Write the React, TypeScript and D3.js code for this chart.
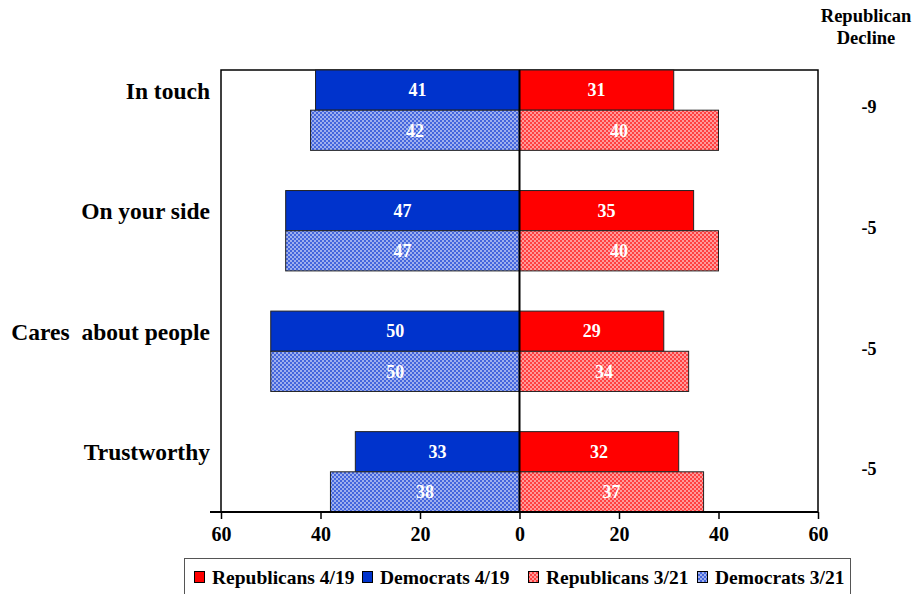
import React, { useEffect, useRef } from "react";
import * as d3 from "d3";

// Survey items (top to bottom)
const categories = ["In touch", "On your side", "Cares  about people", "Trustworthy"];
const democrats419 = [41, 47, 50, 33];
const republicans419 = [31, 35, 29, 32];
const democrats321 = [42, 47, 50, 38];
const republicans321 = [40, 40, 34, 37];
const tickValues = [-60, -40, -20, 0, 20, 40, 60];
const legendLabels = ["Republicans 4/19", "Democrats 4/19", "Republicans 3/21", "Democrats 3/21"];

const W = 914;
const H = 594;
const FONT = "'Liberation Serif', 'Times New Roman', serif";
const RED = "#ff0000";
const BLUE = "#0033cc";
// left edge of each legend entry's swatch
const LEGEND_X = [194, 362, 528, 697];

export default function App() {
  const ref = useRef<SVGSVGElement | null>(null);

  useEffect(() => {
    const svg = d3.select(ref.current);
    svg.selectAll("*").remove();

    const left = 221, right = 818, top = 70, bottom = 512;

    const x = d3.scaleLinear().domain([-60, 60]).range([left, right]);
    const y = d3.scaleBand<string>().domain(categories).range([top, bottom]).paddingInner(1 / 3).paddingOuter(0);
    const bw = y.bandwidth() / 2;

    // checkered fills for the earlier wave
    const defs = svg.append("defs");
    const mkPattern = (id: string, dark: string, light: string) => {
      const p = defs.append("pattern").attr("id", id).attr("patternUnits", "userSpaceOnUse")
        .attr("width", 4).attr("height", 4);
      p.append("rect").attr("width", 4).attr("height", 4).attr("fill", light);
      p.append("rect").attr("width", 2).attr("height", 2).attr("fill", dark);
      p.append("rect").attr("x", 2).attr("y", 2).attr("width", 2).attr("height", 2).attr("fill", dark);
    };
    mkPattern("redCheck", "#ff4040", "#ff9a9a");
    mkPattern("blueCheck", "#4466dd", "#9fb0ee");

    // plot frame
    const g = svg.append("g");
    g.append("path")
      .attr("d", `M${left},${bottom}V${top}H${right}V${bottom}`)
      .attr("fill", "none").attr("stroke", "#000").attr("stroke-width", 1.5);

    type Row = { cat: string; value: number; fill: string; offset: number; side: number };
    const rows: Row[] = [];
    categories.forEach((c, i) => {
      rows.push({ cat: c, value: democrats419[i], fill: BLUE, offset: 0, side: -1 });
      rows.push({ cat: c, value: republicans419[i], fill: RED, offset: 0, side: 1 });
      rows.push({ cat: c, value: democrats321[i], fill: "url(#blueCheck)", offset: 1, side: -1 });
      rows.push({ cat: c, value: republicans321[i], fill: "url(#redCheck)", offset: 1, side: 1 });
    });

    g.selectAll("rect.bar").data(rows).join("rect")
      .attr("class", "bar")
      .attr("x", (d) => Math.min(x(0), x(d.side * d.value)))
      .attr("width", (d) => Math.abs(x(d.side * d.value) - x(0)))
      .attr("y", (d) => (y(d.cat) as number) + d.offset * bw)
      .attr("height", bw)
      .attr("fill", (d) => d.fill)
      .attr("stroke", "#222").attr("stroke-width", 1);

    g.selectAll("text.val").data(rows).join("text")
      .attr("class", "val")
      .attr("x", (d) => (x(0) + x(d.side * d.value)) / 2)
      .attr("y", (d) => (y(d.cat) as number) + d.offset * bw + bw / 2)
      .attr("dy", "0.35em")
      .attr("text-anchor", "middle")
      .attr("font-family", FONT).attr("font-weight", "bold").attr("font-size", 18)
      .attr("fill", "#fff")
      .text((d) => d.value);

    // zero line
    g.append("line").attr("x1", x(0)).attr("x2", x(0)).attr("y1", top).attr("y2", bottom)
      .attr("stroke", "#000").attr("stroke-width", 2);

    // x axis, both halves labelled with absolute values
    const axis = svg.append("g").attr("transform", `translate(0,${bottom})`)
      .call(d3.axisBottom(x).tickValues(tickValues).tickSize(7).tickSizeOuter(0).tickFormat((d) => String(Math.abs(+d))));
    axis.select(".domain").attr("stroke", "#000").attr("stroke-width", 2).attr("d", `M${left - 11},0H${right}`);
    axis.selectAll(".tick line").attr("stroke", "#000").attr("stroke-width", 1.5);
    axis.selectAll(".tick text")
      .attr("font-family", FONT).attr("font-weight", "bold").attr("font-size", 20)
      .attr("fill", "#000").attr("y", 15).attr("dy", "0.71em");

    // category labels
    svg.selectAll("text.cat").data(categories).join("text")
      .attr("class", "cat")
      .attr("x", 210)
      .attr("y", (d) => (y(d) as number) + bw / 2 + 0.5)
      .attr("dy", "0.35em")
      .attr("text-anchor", "end")
      .attr("font-family", FONT).attr("font-weight", "bold").attr("font-size", 23.5)
      .attr("xml:space", "preserve")
      .style("white-space", "pre")
      .text((d) => d);

    // Republican decline column
    const hdr = svg.append("text").attr("text-anchor", "middle")
      .attr("font-family", FONT).attr("font-weight", "bold").attr("font-size", 18.5);
    hdr.append("tspan").attr("x", 866).attr("y", 22).text("Republican");
    hdr.append("tspan").attr("x", 866).attr("y", 44).text("Decline");

    svg.selectAll("text.dec").data(categories).join("text")
      .attr("class", "dec")
      .attr("x", 869)
      .attr("y", (d) => (y(d) as number) + y.bandwidth() / 2 - 3)
      .attr("dy", "0.35em")
      .attr("text-anchor", "middle")
      .attr("font-family", FONT).attr("font-weight", "bold").attr("font-size", 18)
      .text((d, i) => String(republicans419[i] - republicans321[i]));

    // legend box
    const lg = svg.append("g");
    lg.append("rect").attr("x", 184.5).attr("y", 558.5).attr("width", 666).attr("height", 40)
      .attr("fill", "#fff").attr("stroke", "#555").attr("stroke-width", 1);
    const fills = [RED, BLUE, "url(#redCheck)", "url(#blueCheck)"];
    legendLabels.forEach((lab, i) => {
      const ex = LEGEND_X[i];
      lg.append("rect").attr("x", ex + 0.5).attr("y", 571.5).attr("width", 10).attr("height", 11)
        .attr("fill", fills[i]).attr("stroke", "#000").attr("stroke-width", 1);
      lg.append("text").attr("x", ex + 18).attr("y", 584)
        .attr("font-family", FONT).attr("font-weight", "bold").attr("font-size", 19.5)
        .text(lab);
    });
  }, []);

  return (
    <svg
      ref={ref}
      width={W}
      height={H}
      style={{ position: "absolute", left: 0, top: 0, background: "#fff", display: "block" }}
    />
  );
}
